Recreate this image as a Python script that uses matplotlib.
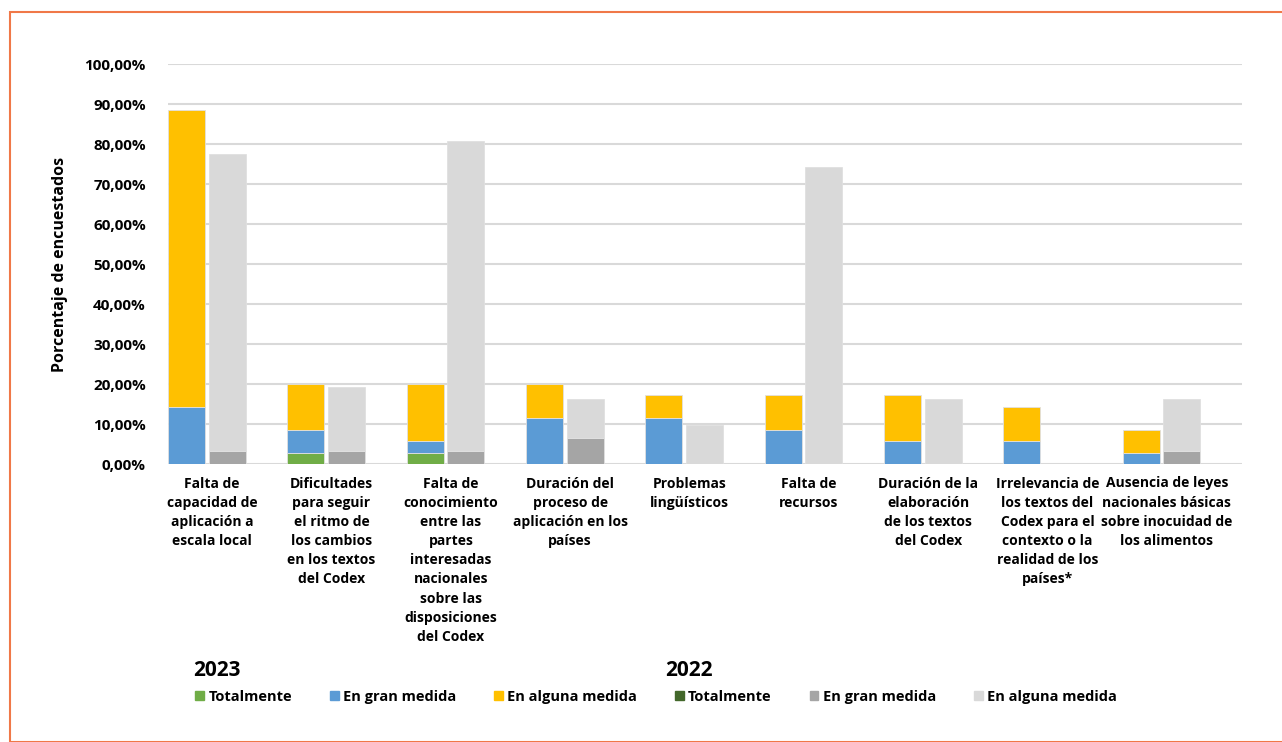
import numpy as np
import matplotlib.pyplot as plt
from matplotlib.patches import Rectangle, Patch
from matplotlib.ticker import FuncFormatter

categorias = [
    "Falta de\ncapacidad de\naplicación a\nescala local",
    "Dificultades\npara seguir\nel ritmo de\nlos cambios\nen los textos\ndel Codex",
    "Falta de\nconocimiento\nentre las\npartes\ninteresadas\nnacionales\nsobre las\ndisposiciones\ndel Codex",
    "Duración del\nproceso de\naplicación en los\npaíses",
    "Problemas\nlingüísticos",
    "Falta de\nrecursos",
    "Duración de la\nelaboración\nde los textos\ndel Codex",
    "Irrelevancia de\nlos textos del\nCodex para el\ncontexto o la\nrealidad de los\npaíses*",
    "Ausencia de leyes\nnacionales básicas\nsobre inocuidad de\nlos alimentos",
]

# 2023 (porcentaje)
tot_2023 = [0.00, 2.86, 2.86, 0.00, 0.00, 0.00, 0.00, 0.00, 0.00]
gran_2023 = [14.29, 5.71, 2.86, 11.43, 11.43, 8.57, 5.71, 5.71, 2.86]
alguna_2023 = [74.29, 11.43, 14.29, 8.57, 5.71, 8.57, 11.43, 8.57, 5.71]

# 2022 (porcentaje)
tot_2022 = [0.00, 0.00, 0.00, 0.00, 0.00, 0.00, 0.00, 0.00, 0.00]
gran_2022 = [3.23, 3.23, 3.23, 6.45, 0.00, 0.00, 0.00, 0.00, 3.23]
alguna_2022 = [74.19, 16.13, 77.42, 9.68, 9.68, 74.19, 16.13, 0.00, 12.90]

c_tot23, c_gran23, c_alg23 = "#70AD47", "#5B9BD5", "#FFC000"
c_tot22, c_gran22, c_alg22 = "#43682B", "#A5A5A5", "#D9D9D9"

plt.rcParams['font.family'] = ['Open Sans', 'DejaVu Sans']

fig = plt.figure(figsize=(12.82, 7.42), dpi=100)
fig.patches.append(Rectangle((10 / 1282, 0), 1.0, 1 - 12 / 742, transform=fig.transFigure,
                             fill=False, edgecolor="#F07848", linewidth=1.5))

ax = fig.add_axes([168 / 1282, 1 - 464 / 742, 1074 / 1282, 400 / 742])

x = np.arange(len(categorias))
w = 0.31
x23 = x + 0.155
x22 = x + 0.495

t23 = np.array(tot_2023)
g23 = np.array(gran_2023)
a23 = np.array(alguna_2023)
t22 = np.array(tot_2022)
g22 = np.array(gran_2022)
a22 = np.array(alguna_2022)

ax.bar(x23, t23, w, color=c_tot23, edgecolor="#E0E0E0", linewidth=0.6, zorder=3)
ax.bar(x23, g23, w, bottom=t23, color=c_gran23, edgecolor="#E0E0E0", linewidth=0.6, zorder=3)
ax.bar(x23, a23, w, bottom=t23 + g23, color=c_alg23, edgecolor="#E0E0E0", linewidth=0.6, zorder=3)
ax.bar(x22, t22, w, color=c_tot22, edgecolor="#E0E0E0", linewidth=0.6, zorder=3)
ax.bar(x22, g22, w, bottom=t22, color=c_gran22, edgecolor="#E0E0E0", linewidth=0.6, zorder=3)
ax.bar(x22, a22, w, bottom=t22 + g22, color=c_alg22, edgecolor="#E0E0E0", linewidth=0.6, zorder=3)

ax.set_xlim(0, len(categorias))
ax.set_ylim(0, 100)
ax.set_yticks(np.arange(0, 101, 10))
ax.yaxis.set_major_formatter(FuncFormatter(lambda v, p: ("%.2f%%" % v).replace(".", ",")))
ax.grid(axis="y", color="#D9D9D9", linewidth=1.5, zorder=0)
for s in ax.spines.values():
    s.set_visible(False)
ax.tick_params(axis="both", length=0)
ax.tick_params(axis="y", pad=16, labelsize=11)
for lbl in ax.get_yticklabels():
    lbl.set_fontweight("bold")

ax.set_xticks(x + 0.37)
ax.set_xticklabels(categorias, fontsize=10, fontweight="bold", linespacing=1.47)
ax.tick_params(axis="x", pad=9)

ax.set_ylabel("Porcentaje de encuestados", fontsize=11.5, fontweight="bold", labelpad=12)

fig.text(193 / 1282, 1 - 670 / 742, "2023", fontsize=15, fontweight="bold", va="center")
fig.text(665 / 1282, 1 - 670 / 742, "2022", fontsize=15, fontweight="bold", va="center")

handles = [Patch(color=c_tot23), Patch(color=c_gran23), Patch(color=c_alg23),
           Patch(color=c_tot22), Patch(color=c_gran22), Patch(color=c_alg22)]
nombres = ["Totalmente", "En gran medida", "En alguna medida",
           "Totalmente", "En gran medida", "En alguna medida"]
leg = fig.legend(handles, nombres, ncol=6, loc="center left",
                 bbox_to_anchor=(182 / 1282, 1 - 697 / 742), frameon=False,
                 handlelength=0.6, handleheight=0.6, handletextpad=0.3,
                 columnspacing=2.6, prop={"weight": "bold", "size": 10.5})

fig.savefig("out.png", dpi=100)
